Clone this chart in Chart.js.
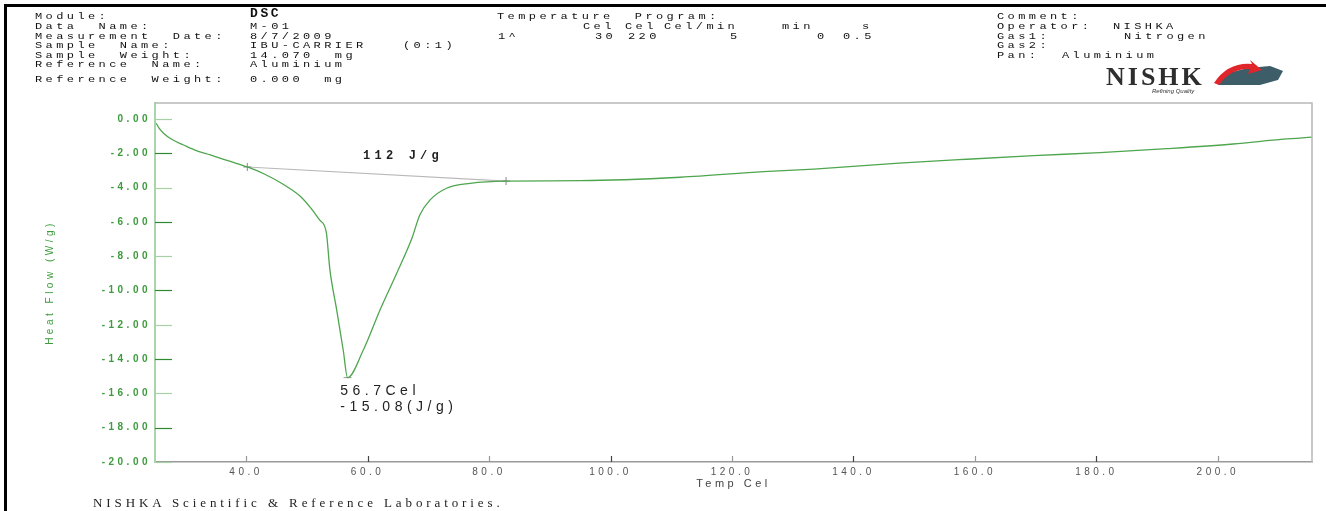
<!DOCTYPE html>
<html><head><meta charset="utf-8">
<script src="https://cdn.jsdelivr.net/npm/chart.js@4/dist/chart.umd.min.js"></script>
<style>
html,body{margin:0;padding:0;background:#fff}
#wrap{position:relative;width:1326px;height:511px;overflow:hidden}
#c{position:absolute;left:0;top:0}
.frame{position:absolute;left:4px;top:4px;right:-10px;bottom:-10px;border-top:3px solid #000;border-left:3px solid #000}
.t{position:absolute;font:12px "Liberation Mono",monospace;letter-spacing:3.4px;white-space:pre;color:#111;line-height:12px;transform:scaleY(.8);transform-origin:0 50%}
.b{font-weight:bold;font-size:13px;letter-spacing:2.6px;transform:none}
.foot{position:absolute;left:93px;top:495px;font:13px "Liberation Serif",serif;letter-spacing:3.9px;color:#222;white-space:pre}
#logo{position:absolute;left:1100px;top:58px}
</style></head>
<body><div id="wrap">
<canvas id="c" width="1326" height="511"></canvas>
<div class="frame"></div>
<div id="hdr"></div>
<svg id="logo" width="200" height="40" viewBox="0 0 200 40">
  <text x="6" y="27" font-family="Liberation Serif" font-weight="bold" font-size="26" letter-spacing="3" fill="#2e2e2e">NISHK</text>
  <path d="M118 27 L128 15 L148 10 L170 8 L183 13 L178 22 L160 27 Z" fill="#3d5d69"/>
  <path d="M114 25 Q128 4 152 6 L150 2 L162 12 L148 16 L150 11 Q131 10 119 27 Z" fill="#e0262a"/>
  <text x="52" y="35" font-family="Liberation Sans" font-style="italic" font-size="6" fill="#333">Refining Quality</text>
</svg>
<div class="foot">NISHKA Scientific &amp; Reference Laboratories.</div>
</div>
<script>
// DSC curve (Temp Cel / Heat Flow W/g)
const TEMP=[25.2,25.7,26.4,27.8,29.7,31.8,34.1,37.4,40.2,43.0,46.3,49.0,50.7,52.1,53.2,53.8,54.9,56.0,56.7,59.3,62.05,64.8,67.3,68.6,70.3,73.0,76.9,82.8,95.1,111.5,125.2,133.5,147.5,158.7,169.7,180.6,191.6,202.5,210.8,215.5];
const HEATFLOW=[-0.25,-0.55,-0.83,-1.2,-1.52,-1.85,-2.1,-2.48,-2.8,-3.21,-3.85,-4.53,-5.21,-5.89,-6.6,-8.8,-11.1,-13.5,-15.08,-13.47,-11.14,-9.0,-6.96,-5.6,-4.72,-4.04,-3.75,-3.62,-3.6,-3.4,-3.07,-2.92,-2.58,-2.35,-2.14,-1.96,-1.73,-1.46,-1.18,-1.06];
// integration baseline limits
const BASE_T=[40.2,82.8], BASE_HF=[-2.8,-3.62];
const PEAK_T=[56.7], PEAK_HF=[-15.08];
const XTICKS=[40,60,80,100,120,140,160,180,200];
const YTICKS=[0,-2,-4,-6,-8,-10,-12,-14,-16,-18,-20];
const X_MIN=25, X_MAX=215.5, Y_MIN=-20, Y_MAX=0.93;
const NOTES=[{t:"112 J/g",x:59.26,y:-2.16,f:'bold 12px "Liberation Mono"',ls:"4.2px"},
  {t:"56.7Cel",x:55.5,y:-15.86,f:'14px "Liberation Sans"',ls:"4.5px"},
  {t:"-15.08(J/g)",x:55.5,y:-16.79,f:'14px "Liberation Sans"',ls:"4.5px"}];

// header block (text, x, y center)
const R=[17,27,36.5,46,55.5,65,80];
const HEADER=[["Module:",35,R[0]],["Data  Name:",35,R[1]],["Measurement  Date:",35,R[2]],["Sample  Name:",35,R[3]],["Sample  Weight:",35,R[4]],["Reference  Name:",35,R[5]],["Reference  Weight:",35,R[6]],
 ["DSC",250,14,1],["M-01",250,R[1]],["8/7/2009",250,R[2]],["IBU-CARRIER",250,R[3]],["(0:1)",403,R[3]],["14.070  mg",250,R[4]],["Aluminium",250,R[5]],["0.000  mg",250,R[6]],
 ["Temperature  Program:",497,R[0]],["Cel",583,R[1]],["Cel",625,R[1]],["Cel/min",664,R[1]],["min",782,R[1]],["s",862,R[1]],
 ["1^",498,R[2]],["30",595,R[2]],["220",628,R[2]],["5",730,R[2]],["0",817,R[2]],["0.5",843,R[2]],
 ["Comment:",997,R[0]],["Operator:",997,R[1]],["NISHKA",1113,R[1]],["Gas1:",997,R[2]],["Nitrogen",1124,R[2]],["Gas2:",997,R[3]],["Pan:",997,R[4]],["Aluminium",1062,R[4]]];
const hdr=document.getElementById("hdr");
HEADER.forEach(([s,x,y,b])=>{const d=document.createElement("div");d.className="t"+(b?" b":"");d.textContent=s;d.style.left=x+"px";d.style.top=(y-6)+"px";hdr.appendChild(d);});

const GREEN="#3d9b3d";
const decor={id:"decor",
  beforeDraw(c){c.ctx.letterSpacing="3.5px";},
  afterDraw(c){const {ctx,chartArea:a,scales:{x,y}}=c;ctx.save();
    ctx.lineWidth=1.5;ctx.strokeStyle="#b8b8b8";ctx.beginPath();ctx.moveTo(a.left,a.top);ctx.lineTo(a.right,a.top);ctx.lineTo(a.right,a.bottom);ctx.stroke();
    ctx.lineWidth=1.2;
    YTICKS.forEach((v,i)=>{const py=Math.round(y.getPixelForValue(v))+.5;ctx.strokeStyle=i%2?"#2f8a2f":"#a6d2a6";ctx.beginPath();ctx.moveTo(a.left,py);ctx.lineTo(a.left+17,py);ctx.stroke();});
    XTICKS.forEach((v,i)=>{const px=Math.round(x.getPixelForValue(v))+.5;ctx.strokeStyle=i%2?"#444":"#999";ctx.beginPath();ctx.moveTo(px,a.bottom);ctx.lineTo(px,a.bottom-6);ctx.stroke();});
    ctx.fillStyle="#222";ctx.textBaseline="middle";ctx.textAlign="left";
    NOTES.forEach(n=>{ctx.font=n.f;ctx.letterSpacing=n.ls;ctx.fillText(n.t,x.getPixelForValue(n.x),y.getPixelForValue(n.y));});
    ctx.restore();}};

new Chart(document.getElementById("c"),{type:"line",
  data:{datasets:[
    {data:TEMP.map((t,i)=>({x:t,y:HEATFLOW[i]})),borderColor:"#4ea64e",borderWidth:1.3,pointRadius:0,cubicInterpolationMode:"monotone"},
    {data:BASE_T.map((t,i)=>({x:t,y:BASE_HF[i]})),borderColor:"#b9b9b9",borderWidth:1.2,pointStyle:"cross",pointRadius:4,pointBorderColor:"#888",pointBorderWidth:1},
    {data:PEAK_T.map((t,i)=>({x:t,y:PEAK_HF[i]})),showLine:false,pointStyle:"line",pointRadius:4,pointBorderColor:"#999",pointBorderWidth:1}]},
  options:{responsive:false,animation:false,events:[],
    layout:{padding:{top:103,right:14,bottom:0,left:0}},
    plugins:{legend:{display:false},tooltip:{enabled:false}},
    scales:{
      x:{type:"linear",min:X_MIN,max:X_MAX,
        afterBuildTicks:s=>{s.ticks=XTICKS.map(v=>({value:v}));},
        afterFit:s=>{s.height=49;},
        grid:{display:true,drawOnChartArea:false,drawTicks:false},
        border:{display:true,color:"#9a9a9a",width:1.5},
        ticks:{autoSkip:false,maxRotation:0,padding:4,color:"#555",font:{size:10},callback:v=>v.toFixed(1)},
        title:{display:true,text:"Temp Cel",color:"#444",font:{size:11},padding:{top:0,bottom:20}}},
      y:{type:"linear",min:Y_MIN,max:Y_MAX,
        afterBuildTicks:s=>{s.ticks=YTICKS.map(v=>({value:v}));},
        afterFit:s=>{s.width=155;},
        grid:{display:true,drawOnChartArea:false,drawTicks:false},
        border:{display:true,color:"#aad4aa",width:2},
        ticks:{autoSkip:false,padding:4,color:GREEN,font:{size:10,weight:"bold"},callback:v=>v.toFixed(2)},
        title:{display:true,text:"Heat Flow (W/g)",color:GREEN,font:{size:10},padding:{top:44,bottom:0}}}}},
  plugins:[decor]});
</script>
</body></html>
